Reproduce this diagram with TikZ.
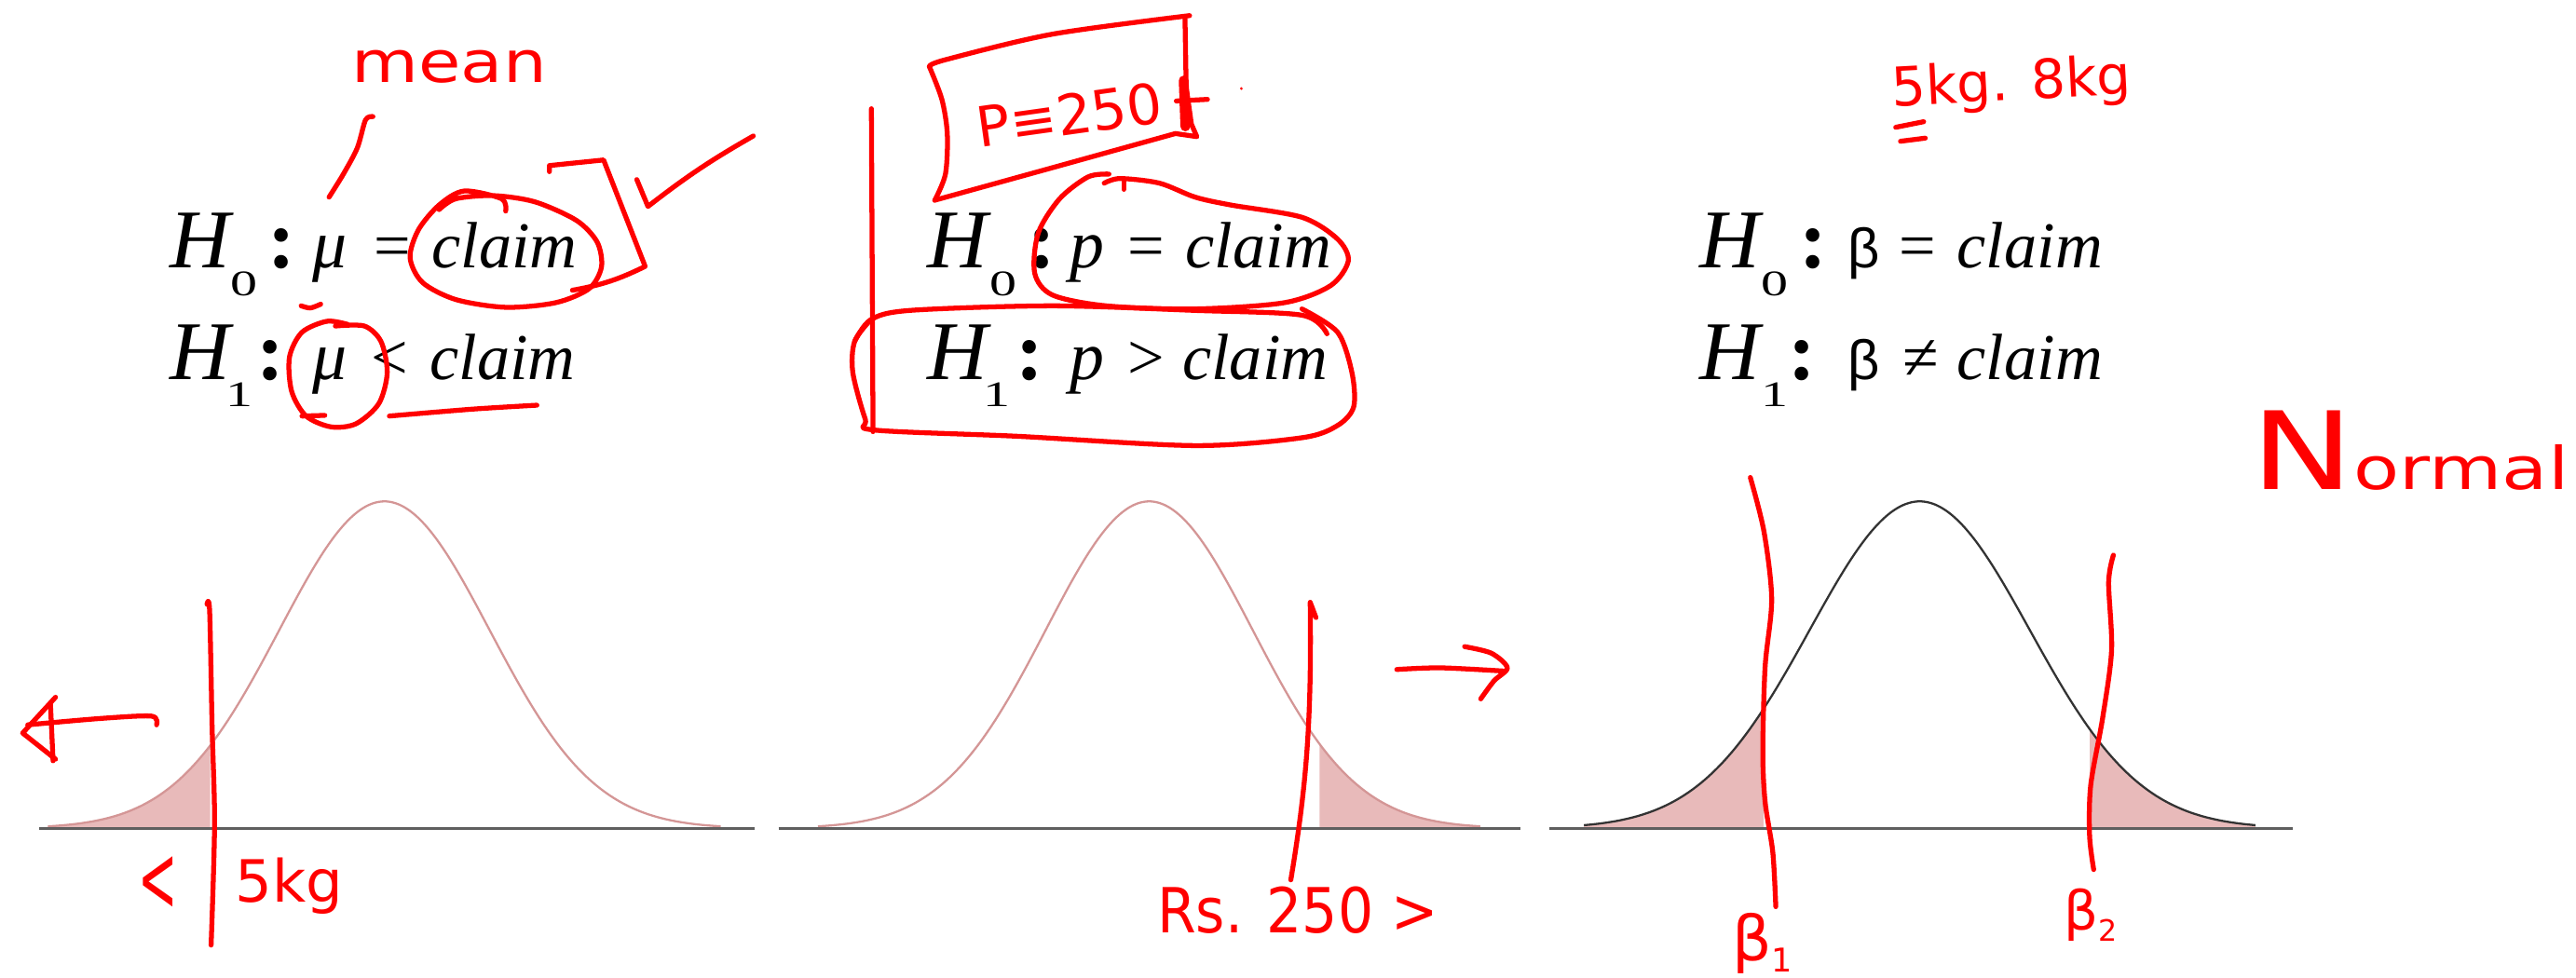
\documentclass[tikz,border=0pt]{standalone}
\usepackage{fontspec}
\setmainfont{Liberation Serif}
\newfontfamily\sansgr{Liberation Sans}
\newfontfamily\handf{DejaVu Sans}
\definecolor{pinkline}{RGB}{212,150,150}
\definecolor{tailfill}{RGB}{232,186,186}
\definecolor{axisgray}{RGB}{95,95,95}
\definecolor{inkred}{RGB}{255,0,0}
\begin{document}
\begin{tikzpicture}[x=0.017634cm,y=-0.017634cm,
  txt/.style={inner sep=0pt, anchor=base},
  bigH/.style={txt, font=\fontsize{25.5}{28}\selectfont\itshape},
  subn/.style={txt, font=\fontsize{11}{12}\selectfont},
  colonsym/.style={txt, font=\fontsize{25.5}{28}\selectfont\bfseries},
  var/.style={txt, font=\fontsize{21}{24}\selectfont\itshape},
  relsym/.style={txt, font=\fontsize{20}{24}\selectfont},
  claimtxt/.style={txt, font=\fontsize{20}{24}\selectfont\itshape},
  betatxt/.style={txt, font=\sansgr\fontsize{17}{20}\selectfont},
  stroke/.style={draw=inkred, line width=1.5pt, line cap=round, line join=round},
  hand/.style={inner sep=0pt, text=inkred},
  tailshade/.style={fill=tailfill},
  bell/.style={draw=pinkline, line width=0.65pt},
  bellblack/.style={draw=black!80, line width=0.65pt},
  axisline/.style={draw=axisgray, line width=0.9pt}]
\useasboundingbox (0,0) rectangle (1568,595);

% ---------- bell curves ----------
% curve 1
\fill[tailshade] plot[domain=-3.2:-1.656, samples=40] ({234+64*\x},{504.3-199*exp(-0.5*\x*\x)}) -- (128,504.3) -- (29.2,504.3) -- cycle;
\draw[bell] plot[domain=-3.2:3.2, samples=150, smooth] ({234+64*\x},{504.3-199*exp(-0.5*\x*\x)});
% curve 2
\fill[tailshade] plot[domain=1.646:3.2, samples=40] ({699.5+63*\x},{504.3-199*exp(-0.5*\x*\x)}) -- (901.1,504.3) -- (803.2,504.3) -- cycle;
\draw[bell] plot[domain=-3.2:3.2, samples=150, smooth] ({699.5+63*\x},{504.3-199*exp(-0.5*\x*\x)});
% curve 3
\fill[tailshade] plot[domain=-3.05:-1.42, samples=40] ({1168.5+67*\x},{504.3-199*exp(-0.5*\x*\x)}) -- (1073.4,504.3) -- (964.2,504.3) -- cycle;
\fill[tailshade] plot[domain=1.545:3.05, samples=40] ({1168.5+67*\x},{504.3-199*exp(-0.5*\x*\x)}) -- (1372.8,504.3) -- (1272,504.3) -- cycle;
\draw[bellblack] plot[domain=-3.05:3.05, samples=150, smooth] ({1168.5+67*\x},{504.3-199*exp(-0.5*\x*\x)});
% axes
\draw[axisline] (24,504.3) -- (459.3,504.3);
\draw[axisline] (473.9,504.3) -- (925.3,504.3);
\draw[axisline] (943.1,504.3) -- (1395.6,504.3);

% ---------- hypotheses, block 1 ----------
\node[bigH] (h0a) at (121.75,163) {H};
\node[subn] (s0a) at (148.5,180) {\scalebox{1.5}[1]{0}};
\node[colonsym] (c0a) at (171.5,163) {:};
\node[var] (m0a) at (200.5,163) {μ};
\node[relsym] (e0a) at (239,163) {=};
\node[claimtxt] (k0a) at (307,163) {claim};
\node[bigH] (h1a) at (121.75,231) {H};
\node[subn] (s1a) at (146,247.6) {\scalebox{1.5}[1]{1}};
\node[colonsym] (c1a) at (164.5,231) {:};
\node[var] (m1a) at (200.5,231) {μ};
\node[relsym] (e1a) at (237,231) {<};
\node[claimtxt] (k1a) at (306,231) {claim};

% ---------- hypotheses, block 2 ----------
\node[bigH] (h0b) at (583,163) {H};
\node[subn] (s0b) at (610.5,180) {\scalebox{1.5}[1]{0}};
\node[colonsym] (c0b) at (634,163) {:};
\node[var] (m0b) at (661.5,163) {p};
\node[relsym] (e0b) at (697.5,163) {=};
\node[claimtxt] (k0b) at (766,163) {claim};
\node[bigH] (h1b) at (583,231) {H};
\node[subn] (s1b) at (607,247.6) {\scalebox{1.5}[1]{1}};
\node[colonsym] (c1b) at (627,231) {:};
\node[var] (m1b) at (661.5,231) {p};
\node[relsym] (e1b) at (697.5,231) {>};
\node[claimtxt] (k1b) at (764,231) {claim};

% ---------- hypotheses, block 3 ----------
\node[bigH] (h0c) at (1053,163) {H};
\node[subn] (s0c) at (1080,180) {\scalebox{1.5}[1]{0}};
\node[colonsym] (c0c) at (1103.5,163) {:};
\node[betatxt] (b0c) at (1134.5,163) {β};
\node[relsym] (e0c) at (1167.5,163) {=};
\node[claimtxt] (k0c) at (1235.5,163) {claim};
\node[bigH] (h1c) at (1053,231) {H};
\node[subn] (s1c) at (1080,247.6) {\scalebox{1.5}[1]{1}};
\node[colonsym] (c1c) at (1097,231) {:};
\node[betatxt] (b1c) at (1134.5,231) {β};
\node[relsym] (e1c) at (1169,231) {≠};
\node[claimtxt] (k1c) at (1235.5,231) {claim};

% ---------- red handwriting: block 1 ----------
\node[hand, anchor=base, font=\handf\fontsize{17.5}{20}\selectfont] (mean) at (273.5,50) {\scalebox{1.2}[1]{mean}};
\draw[stroke] plot[smooth] coordinates {(227,71) (222.5,73) (217.5,90) (209,106) (200.3,120)};
\draw[stroke] plot[smooth] coordinates {(183.3,186.2) (188.9,187.5) (195.2,185.2)};
\draw[stroke] plot[smooth] coordinates {(307.8,128.5) (305.3,121) (282.5,116.3) (267.3,124.8) (254.7,139.9) (249.6,156.9) (257.2,172) (277.5,182.4) (307.8,187.1) (338.2,184.3) (358.5,175.8) (366.1,162.6) (363.5,147.4) (350.9,134.2) (325.6,122.9) (300.3,119.1) (277.5,121) (267.3,127.6)};
\draw[stroke] (334.4,104.5) -- (334.4,100.8) -- (367.4,97.4) -- (392.7,162.2) to[bend left=8] (348.4,176.7);
\draw[stroke] (387.6,109.3) -- (394.4,125.7) to[bend left=4] (458.5,82.8);
\draw[stroke] plot[smooth] coordinates {(204.1,198.5) (221.8,198.5) (231.9,207.9) (235.7,226.8) (230.6,245.7) (216.7,258) (201.5,259.9) (186.3,253.3) (177.5,238.2) (176.2,217.4) (183.8,202.3) (199,195.6) (211.6,197.5)};
\draw[stroke] (183.8,253.3) -- (197.7,252.9);
\draw[stroke] plot[smooth] coordinates {(237,253.3) (287.6,249.1) (326.8,246.7)};

% ---------- red handwriting: block 2 ----------
\draw[stroke] (530.4,66.2) -- (531.4,262.8);
\draw[stroke] plot[smooth] coordinates {(565.7,40.6) (575,36.5) (640.6,20.8) (724.1,9.5)};
\draw[stroke] (721.3,11.3) -- (722,52.9) -- (725.2,75.6) -- (728.5,83.2) -- (715.5,81.3);
\draw[stroke] plot[smooth] coordinates {(715.5,81.3) (640.6,102.1) (569,121.9)};
\draw[stroke] plot[smooth] coordinates {(569,121.9) (575.5,105.9) (576.6,81.3) (573.3,60.5) (565.7,40.6)};
\node[hand, rotate=8, font=\handf\fontsize{17}{20}\selectfont] (pval) at (651,70) {P≡250};
\draw[stroke, line width=3pt] (720.5,49) -- (721.5,77);
\draw[stroke] (716,61.5) -- (735,60.5);
\fill[inkred] (755.6,53.9) circle (0.9);
\draw[stroke] plot[smooth] coordinates {(672.1,111.5) (681.8,108.7) (705.7,111.5) (727.4,120) (749.1,124.8) (792.5,132.3) (814.2,145.6) (820.7,158.8) (809.9,173.9) (781.7,184.3) (727.4,188.1) (673.2,186.2) (640.6,179.6) (629.8,166.3) (632,141.8) (645,121) (662.3,107.7) (675,106)};
\draw[stroke] (684,109.6) -- (684,115.3);
\draw[stroke] plot[smooth] coordinates {(520.2,207.9) (530,194.7) (553.8,189) (640.6,186.2) (727.4,189) (792.5,191.9) (807.7,203.2)};
\draw[stroke] plot[smooth] coordinates {(792.5,188.1) (814.2,202.3) (822.9,226.8) (824,247.6) (814.2,259) (792.5,266.5) (727.4,271.3) (618.9,265.6) (532.1,261.8) (526.7,255.2) (519.1,226.8) (520.2,207.9) (530,194.7)};

% ---------- red handwriting: block 3 ----------
\node[hand, rotate=3, anchor=base, font=\handf\fontsize{16.5}{19}\selectfont] (kgs) at (1225,61) {5kg. 8kg};
\draw[stroke] (1153.9,77.5) -- (1170.9,74.1);
\draw[stroke] (1156.8,86) -- (1171.9,84.1);
\node[hand, anchor=base west, font=\handf] (normal) at (1370,298) {\scalebox{1.27}[1]{{\fontsize{33}{36}\selectfont N}{\fontsize{18}{20}\selectfont ormal}}};

% ---------- red handwriting: curve 1 ----------
\draw[stroke] plot[smooth] coordinates {(126,367.9) (127.6,372) (129.1,442.3) (130.6,501.9) (128.5,575.4)};
\draw[stroke] plot[smooth] coordinates {(95.3,441.3) (92.2,436) (61.5,437.4) (16.9,441.3)};
\draw[stroke] (33.8,424.5) -- (13.8,446.3) -- (33.8,462.2);
\draw[stroke] (30.7,428.4) -- (32.3,463.2);
\node[hand, font=\handf\fontsize{24}{26}\selectfont] (lt) at (96,538) {\scalebox{0.6}[1.2]{<}};
\node[hand, anchor=base west, font=\handf\fontsize{17.8}{20}\selectfont] (fivekg) at (143,549) {5kg};

% ---------- red handwriting: curve 2 ----------
\draw[stroke] (801,376) -- (797.5,366.7) .. controls (798.5,440) and (795,480) .. (785.7,535.7);
\draw[stroke] plot[smooth] coordinates {(850.2,407.6) (876.9,406.6) (915.9,408.6)};
\draw[stroke] plot[smooth] coordinates {(891.5,393.7) (907.8,397.7) (917.5,406.6) (909.4,414.5) (901.3,425.5)};
\node[hand, anchor=base west, font=\handf\fontsize{19}{22}\selectfont] (rs) at (704,568) {\scalebox{0.9}[1]{Rs. 250 >}};

% ---------- red handwriting: curve 3 ----------
\draw[stroke] plot[smooth] coordinates {(1065.4,290.7) (1073.7,323.6) (1078.4,364.8) (1074.4,406) (1073,457.4) (1074.4,488.2) (1079.1,519.1) (1080.9,552)};
\draw[stroke] plot[smooth] coordinates {(1286.4,338) (1283.5,354.5) (1285.3,395.7) (1279.9,436.8) (1272.6,478) (1271.9,508.8) (1274.4,529.4)};
\node[hand, anchor=base west, font=\handf\fontsize{19}{22}\selectfont] (beta1) at (1054,585) {β\raisebox{-3.5pt}{\fontsize{10}{12}\selectfont 1}};
\node[hand, anchor=base west, font=\handf\fontsize{16.5}{19}\selectfont] (beta2) at (1256,566) {β\raisebox{-3.5pt}{\fontsize{9}{11}\selectfont 2}};
\end{tikzpicture}
\end{document}
